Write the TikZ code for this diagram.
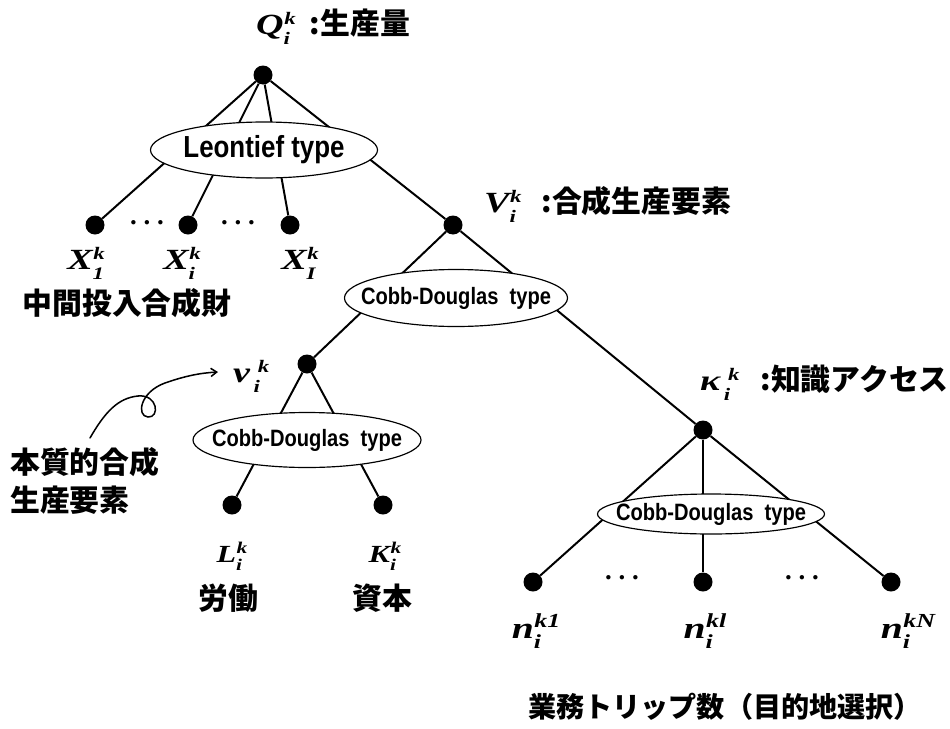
\documentclass[tikz,border=0pt]{standalone}
\usepackage{fontspec}
\usetikzlibrary{shapes.geometric, arrows.meta}
\newfontfamily\jpfont{Noto Sans CJK JP}
\newfontfamily\lsfont[FakeStretch=0.85]{Liberation Sans}
\newfontfamily\tmfont[FakeStretch=1.3]{Liberation Serif}
\newfontfamily\gapfont{Liberation Serif}
% symbol with stacked sub- and superscript
\newcommand{\symb}[4][15]{#2\makebox[0pt][l]{\raisebox{-0.36em}{\fontsize{#1}{#1}\selectfont #3}}\raisebox{0.33em}{\fontsize{#1}{#1}\selectfont\kern0.5pt #4}}
\newcommand{\jptxt}[1]{{\jpfont\bfseries\fontsize{25.5}{30}\selectfont #1}}
\tikzset{
    dot/.style = {circle, fill=black, inner sep=0pt, minimum size=0.57cm},
    branch/.style = {line width=1.7pt},
    typebox/.style = {ellipse, draw=black, line width=1pt, fill=white, inner sep=0pt, font=\lsfont\bfseries\fontsize{20.2}{22}\selectfont},
    sym/.style = {inner sep=0pt, anchor=base, font=\tmfont\bfseries\itshape\fontsize{25}{27}\selectfont},
    jp/.style = {inner sep=0pt, align=left, font=\jpfont\bfseries\fontsize{25.5}{32.4}\selectfont},
    gap/.style = {inner sep=0pt, font=\gapfont\bfseries\fontsize{23}{25}\selectfont},
    note/.style = {line width=1.3pt, line cap=round, -{Straight Barb[length=5pt,width=7pt]}}
}
\begin{document}
\begin{tikzpicture}[x=0.03cm, y=-0.03cm]
\useasboundingbox (0,0) rectangle (950,729);

% tree nodes
\node (prod) [dot] at (263,75) {};
\node (x1) [dot] at (95,225) {};
\node (xi) [dot] at (188,225) {};
\node (xI) [dot] at (290,225) {};
\node (comp) [dot] at (453,225) {};
\node (ess) [dot] at (307,364) {};
\node (know) [dot] at (703,430) {};
\node (lab) [dot] at (232,505) {};
\node (cap) [dot] at (383,505) {};
\node (n1) [dot] at (533,582) {};
\node (nl) [dot] at (703,582) {};
\node (nN) [dot] at (891,582) {};

\foreach \child in {x1, xi, xI, comp}
    \draw [branch] (prod) -- (\child);
\foreach \child in {ess, know}
    \draw [branch] (comp) -- (\child);
\foreach \child in {lab, cap}
    \draw [branch] (ess) -- (\child);
\foreach \child in {n1, nl, nN}
    \draw [branch] (know) -- (\child);

% function types
\node (leon) [typebox, minimum width=6.81cm, minimum height=1.68cm, font=\lsfont\bfseries\fontsize{26}{28}\selectfont] at (264,150) {\makebox[0pt]{Leontief type}};
\node (cd1) [typebox, minimum width=6.69cm, minimum height=1.71cm] at (456,298) {\makebox[0pt]{Cobb-Douglas~~type}};
\node (cd2) [typebox, minimum width=6.84cm, minimum height=1.65cm] at (307,440) {\makebox[0pt]{Cobb-Douglas~~type}};
\node (cd3) [typebox, minimum width=6.81cm, minimum height=1.2cm] at (711,514) {\makebox[0pt]{Cobb-Douglas~~type}};

% labels
\node (qlbl) [sym, anchor=base west] at (256,34) {\symb{Q}{i}{k}\hspace{12pt}\jptxt{:生産量}};
\node (vlbl) [sym, anchor=base west] at (484,212) {\symb{V}{i}{k}\hspace{17pt}\jptxt{:合成生産要素}};
\node (nulbl) [sym, anchor=base west] at (233,382) {\symb{ν\kern3pt}{i}{\kern3pt k}};
\node (kaplbl) [sym, anchor=base west] at (700,390) {\symb{κ\kern3pt}{i}{\kern3pt k}\hspace{18pt}\jptxt{:知識アクセス}};

\node (x1lbl) [sym] at (86,269) {\symb{X}{1}{k}};
\node (xilbl) [sym] at (182,269) {\symb{X}{i}{k}};
\node (xIlbl) [sym] at (300,269) {\symb{X}{I}{k}};
\node (mid) [jp] at (127,303) {中間投入合成財};

\node (lablbl) [sym, font=\tmfont\bfseries\itshape\fontsize{21}{23}\selectfont] at (232,562) {\symb[14]{L}{i}{k}};
\node (caplbl) [sym, font=\tmfont\bfseries\itshape\fontsize{21}{23}\selectfont] at (385,562) {\symb[14]{K}{i}{k}};
\node (labjp) [jp] at (228,598) {労働};
\node (capjp) [jp] at (382,598) {資本};
\node (essjp) [jp, anchor=west] at (10,481) {本質的合成\\生産要素};

\node (n1lbl) [sym, font=\tmfont\bfseries\itshape\fontsize{26}{28}\selectfont] at (536,638) {\symb[17]{n}{i}{k1}};
\node (nllbl) [sym, font=\tmfont\bfseries\itshape\fontsize{26}{28}\selectfont] at (705,638) {\symb[17]{n}{i}{kl}};
\node (nNlbl) [sym, font=\tmfont\bfseries\itshape\fontsize{26}{28}\selectfont] at (908,638) {\symb[17]{n}{i}{kN}};
\node (trip) [jp, font=\jpfont\bfseries\fontsize{24}{30}\selectfont] at (725,707) {業務トリップ数（目的地選択）};

% omitted branches
\node (gapx1) [gap] at (147,223) {.~.~.};
\node (gapx2) [gap] at (238,223) {.~.~.};
\node (gapn1) [gap] at (622,578) {.~.~.};
\node (gapn2) [gap] at (802,578) {.~.~.};

% hand-drawn pointer
\coordinate (tail) at (90,438);
\coordinate (tip) at (218,372);
\draw [note] (tail) .. controls (105,412) and (118,398) .. (138,396)
    .. controls (158,394) and (160,418) .. (148,417)
    .. controls (136,416) and (140,392) .. (165,383)
    .. controls (185,376) and (200,373) .. (tip);
\end{tikzpicture}
\end{document}
